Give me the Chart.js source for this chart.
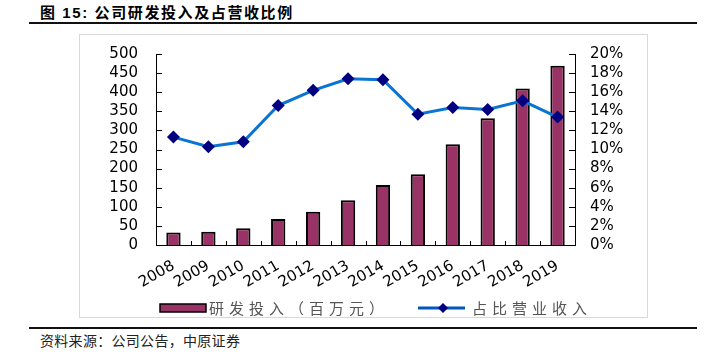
<!DOCTYPE html>
<html>
<head>
<meta charset="utf-8">
<script src="https://cdn.jsdelivr.net/npm/chart.js@4.4.1/dist/chart.umd.min.js"></script>
<style>
  body { margin: 0; background: #fff; width: 728px; height: 362px; position: relative; overflow: hidden; }
  #title { position: absolute; left: 40px; top: 1px; font: bold 15px "Liberation Sans", "Noto Sans CJK SC", sans-serif; letter-spacing: 1.6px; color: #000; }
  .rule { position: absolute; left: 29px; width: 668px; height: 2px; background: #111; }
  #box { position: absolute; left: 79px; top: 34px; width: 567px; height: 282px; border: 1px solid #d9d9d9; }
  #src { position: absolute; left: 40px; top: 330px; font: 14px "Noto Sans CJK SC", sans-serif; color: #222; letter-spacing: 0.3px; }
</style>
</head>
<body>
<div id="title">图 15:  公司研发投入及占营收比例</div>
<div class="rule" style="top:22px"></div>
<div id="box"><canvas id="myChart" width="567" height="282"></canvas></div>
<div class="rule" style="top:327px"></div>
<div id="src">资料来源：公司公告，中原证券</div>
<script>
var years = ['2008', '2009', '2010', '2011', '2012', '2013', '2014', '2015', '2016', '2017', '2018', '2019'];
var rdSpend = [33, 35, 44, 68, 87, 117, 157, 185, 264, 332, 410, 469];   // 百万元
var rdRatio = [11.3, 10.3, 10.8, 14.6, 16.2, 17.4, 17.3, 13.7, 14.4, 14.2, 15.1, 13.4]; // %
var barLabel = '研发投入（百万元）';
var lineLabel = '占比营业收入';

var tickFont = { family: 'DejaVu Sans', size: 15 };

// small inward tick marks + custom legend
var extras = {
  id: 'extras',
  afterDraw: function(chart) {
    var ctx = chart.ctx, a = chart.chartArea;
    var y = chart.scales.y, y1 = chart.scales.y1;
    ctx.save();
    ctx.strokeStyle = '#000';
    ctx.lineWidth = 1;
    ctx.beginPath();
    y.ticks.forEach(function(t, i) {
      var p = Math.round(y.getPixelForTick(i)) + 0.5;
      ctx.moveTo(a.left, p); ctx.lineTo(a.left + 6, p);
    });
    y1.ticks.forEach(function(t, i) {
      var p = Math.round(y1.getPixelForTick(i)) + 0.5;
      ctx.moveTo(a.right, p); ctx.lineTo(a.right - 6, p);
    });
    var w = (a.right - a.left) / years.length;
    for (var i = 0; i <= years.length; i++) {
      var px = Math.round(a.left + i * w) + 0.5;
      ctx.moveTo(px, a.bottom); ctx.lineTo(px, a.bottom - 4);
    }
    ctx.stroke();

    // legend
    var ly = 273;
    ctx.fillStyle = '#993366';
    ctx.fillRect(80, ly - 4, 46, 8);
    ctx.strokeStyle = '#000';
    ctx.lineWidth = 1.5;
    ctx.strokeRect(80, ly - 4, 46, 8);
    ctx.font = '15px "Noto Sans CJK SC"';
    ctx.letterSpacing = '5px';
    ctx.fillStyle = '#555';
    ctx.textBaseline = 'middle';
    ctx.textAlign = 'left';
    ctx.fillText(barLabel, 129, ly);

    ctx.strokeStyle = '#0058b8';
    ctx.lineWidth = 3;
    ctx.beginPath();
    ctx.moveTo(338, ly); ctx.lineTo(385, ly);
    ctx.stroke();
    ctx.fillStyle = '#000080';
    ctx.beginPath();
    ctx.moveTo(363 - 5, ly); ctx.lineTo(363, ly - 5); ctx.lineTo(363 + 5, ly); ctx.lineTo(363, ly + 5);
    ctx.closePath();
    ctx.fill();
    ctx.fillStyle = '#555';
    ctx.fillText(lineLabel, 392, ly);
    ctx.restore();
  }
};

var ctx = document.getElementById('myChart').getContext('2d');
var myChart = new Chart(ctx, {
  type: 'bar',
  data: {
    labels: years,
    datasets: [{
      type: 'line',
      label: lineLabel,
      data: rdRatio,
      yAxisID: 'y1',
      borderColor: '#0a74d2',
      borderWidth: 3,
      pointStyle: 'rectRot',
      pointRadius: 6.5,
      pointBackgroundColor: '#000080',
      pointBorderColor: '#000080',
      pointBorderWidth: 0,
      tension: 0,
      order: 0
    }, {
      label: barLabel,
      data: rdSpend,
      yAxisID: 'y',
      backgroundColor: '#993366',
      borderColor: '#000',
      borderWidth: 2,
      categoryPercentage: 1,
      barPercentage: 0.41,
      order: 1
    }]
  },
  options: {
    responsive: false,
    animation: false,
    layout: { padding: { top: 11, left: 0, right: 0, bottom: 0 } },
    plugins: { legend: { display: false }, tooltip: { enabled: false } },
    scales: {
      x: {
        grid: { display: false },
        border: { display: true, color: '#000', width: 1 },
        ticks: { font: tickFont, color: '#000', minRotation: 30, maxRotation: 30, padding: 4, autoSkip: false },
        afterFit: function(s) { s.height = 72; }
      },
      y: {
        position: 'left',
        min: 0, max: 500,
        grid: { display: false },
        border: { display: true, color: '#000', width: 1 },
        ticks: { stepSize: 50, font: tickFont, color: '#000', padding: 10, autoSkip: false },
        afterFit: function(s) { s.width = 76; }
      },
      y1: {
        position: 'right',
        min: 0, max: 20,
        grid: { display: false },
        border: { display: true, color: '#000', width: 1 },
        ticks: { stepSize: 2, font: tickFont, color: '#000', padding: 7, autoSkip: false,
                 callback: function(v) { return v + '%'; } },
        afterFit: function(s) { s.width = 72; }
      }
    }
  },
  plugins: [extras]
});
</script>
</body>
</html>
